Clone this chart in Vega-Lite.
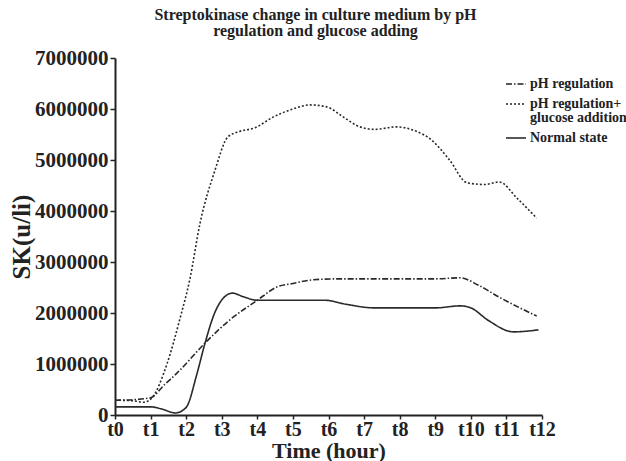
{
  "$schema": "https://vega.github.io/schema/vega-lite/v6.json",
  "autosize": {"type": "none"},
  "width": 427,
  "height": 357,
  "padding": {"left": 115, "top": 58, "right": 84, "bottom": 46},
  "background": "white",
  "title": {
    "text": ["Streptokinase change in culture medium by pH", "regulation and glucose adding"],
    "font": "Liberation Serif",
    "fontWeight": "bold",
    "fontSize": 16,
    "lineHeight": 16,
    "color": "#222",
    "anchor": "middle",
    "dx": -13,
    "offset": 8
  },
  "data": {
    "values": [
      {"t": 0, "sk": 290000, "series": "pH regulation"},
      {"t": 0.5, "sk": 300000, "series": "pH regulation"},
      {"t": 1.0, "sk": 340000, "series": "pH regulation"},
      {"t": 1.4, "sk": 600000, "series": "pH regulation"},
      {"t": 1.74, "sk": 820000, "series": "pH regulation"},
      {"t": 2.53, "sk": 1410000, "series": "pH regulation"},
      {"t": 3.2, "sk": 1850000, "series": "pH regulation"},
      {"t": 4.0, "sk": 2250000, "series": "pH regulation"},
      {"t": 4.55, "sk": 2510000, "series": "pH regulation"},
      {"t": 5.0, "sk": 2580000, "series": "pH regulation"},
      {"t": 5.56, "sk": 2650000, "series": "pH regulation"},
      {"t": 6.3, "sk": 2670000, "series": "pH regulation"},
      {"t": 7.0, "sk": 2670000, "series": "pH regulation"},
      {"t": 8.0, "sk": 2670000, "series": "pH regulation"},
      {"t": 9.0, "sk": 2670000, "series": "pH regulation"},
      {"t": 9.7, "sk": 2690000, "series": "pH regulation"},
      {"t": 10.2, "sk": 2550000, "series": "pH regulation"},
      {"t": 10.8, "sk": 2310000, "series": "pH regulation"},
      {"t": 11.85, "sk": 1940000, "series": "pH regulation"},

      {"t": 0, "sk": 290000, "series": "pH regulation+ glucose addition"},
      {"t": 0.5, "sk": 280000, "series": "pH regulation+ glucose addition"},
      {"t": 0.8, "sk": 250000, "series": "pH regulation+ glucose addition"},
      {"t": 1.03, "sk": 330000, "series": "pH regulation+ glucose addition"},
      {"t": 1.46, "sk": 1000000, "series": "pH regulation+ glucose addition"},
      {"t": 1.83, "sk": 1900000, "series": "pH regulation+ glucose addition"},
      {"t": 2.1, "sk": 2650000, "series": "pH regulation+ glucose addition"},
      {"t": 2.39, "sk": 3760000, "series": "pH regulation+ glucose addition"},
      {"t": 2.81, "sk": 4800000, "series": "pH regulation+ glucose addition"},
      {"t": 3.17, "sk": 5450000, "series": "pH regulation+ glucose addition"},
      {"t": 3.5, "sk": 5560000, "series": "pH regulation+ glucose addition"},
      {"t": 3.93, "sk": 5630000, "series": "pH regulation+ glucose addition"},
      {"t": 4.44, "sk": 5840000, "series": "pH regulation+ glucose addition"},
      {"t": 5.0, "sk": 6000000, "series": "pH regulation+ glucose addition"},
      {"t": 5.48, "sk": 6080000, "series": "pH regulation+ glucose addition"},
      {"t": 5.96, "sk": 6040000, "series": "pH regulation+ glucose addition"},
      {"t": 6.4, "sk": 5850000, "series": "pH regulation+ glucose addition"},
      {"t": 6.88, "sk": 5650000, "series": "pH regulation+ glucose addition"},
      {"t": 7.3, "sk": 5600000, "series": "pH regulation+ glucose addition"},
      {"t": 7.9, "sk": 5650000, "series": "pH regulation+ glucose addition"},
      {"t": 8.4, "sk": 5580000, "series": "pH regulation+ glucose addition"},
      {"t": 8.9, "sk": 5390000, "series": "pH regulation+ glucose addition"},
      {"t": 9.4, "sk": 5000000, "series": "pH regulation+ glucose addition"},
      {"t": 9.9, "sk": 4550000, "series": "pH regulation+ glucose addition"},
      {"t": 10.4, "sk": 4520000, "series": "pH regulation+ glucose addition"},
      {"t": 10.8, "sk": 4570000, "series": "pH regulation+ glucose addition"},
      {"t": 11.3, "sk": 4250000, "series": "pH regulation+ glucose addition"},
      {"t": 11.85, "sk": 3860000, "series": "pH regulation+ glucose addition"},

      {"t": 0, "sk": 160000, "series": "Normal state"},
      {"t": 1.0, "sk": 160000, "series": "Normal state"},
      {"t": 1.3, "sk": 120000, "series": "Normal state"},
      {"t": 1.7, "sk": 40000, "series": "Normal state"},
      {"t": 2.0, "sk": 150000, "series": "Normal state"},
      {"t": 2.3, "sk": 800000, "series": "Normal state"},
      {"t": 2.53, "sk": 1410000, "series": "Normal state"},
      {"t": 2.8, "sk": 2000000, "series": "Normal state"},
      {"t": 3.1, "sk": 2330000, "series": "Normal state"},
      {"t": 3.3, "sk": 2390000, "series": "Normal state"},
      {"t": 3.6, "sk": 2320000, "series": "Normal state"},
      {"t": 4.0, "sk": 2250000, "series": "Normal state"},
      {"t": 5.0, "sk": 2250000, "series": "Normal state"},
      {"t": 5.9, "sk": 2250000, "series": "Normal state"},
      {"t": 6.5, "sk": 2170000, "series": "Normal state"},
      {"t": 7.3, "sk": 2100000, "series": "Normal state"},
      {"t": 8.0, "sk": 2100000, "series": "Normal state"},
      {"t": 9.0, "sk": 2100000, "series": "Normal state"},
      {"t": 9.7, "sk": 2140000, "series": "Normal state"},
      {"t": 10.0, "sk": 2100000, "series": "Normal state"},
      {"t": 10.5, "sk": 1850000, "series": "Normal state"},
      {"t": 11.2, "sk": 1630000, "series": "Normal state"},
      {"t": 11.9, "sk": 1670000, "series": "Normal state"}
    ]
  },
  "mark": {"type": "line", "interpolate": "monotone", "strokeWidth": 1.6, "color": "#2a2a2a"},
  "encoding": {
    "x": {
      "field": "t",
      "type": "quantitative",
      "scale": {"domain": [0, 12], "nice": false},
      "axis": {
        "values": [0, 1, 2, 3, 4, 5, 6, 7, 8, 9, 10, 11, 12],
        "labelExpr": "'t' + datum.value",
        "title": "Time (hour)",
        "grid": false,
        "domainColor": "#222",
        "domainWidth": 2,
        "tickColor": "#222",
        "tickWidth": 1.5,
        "tickSize": 4,
        "labelFont": "Liberation Serif",
        "labelFontWeight": "bold",
        "labelFontSize": 20,
        "labelColor": "#222",
        "labelPadding": 0,
        "labelFlush": false,
        "titleFont": "Liberation Serif",
        "titleFontWeight": "bold",
        "titleFontSize": 22,
        "titleColor": "#222",
        "titlePadding": 1
      }
    },
    "y": {
      "field": "sk",
      "type": "quantitative",
      "scale": {"domain": [0, 7000000], "nice": false},
      "axis": {
        "values": [0, 1000000, 2000000, 3000000, 4000000, 5000000, 6000000, 7000000],
        "format": "d",
        "title": "SK(u/li)",
        "grid": false,
        "domainColor": "#222",
        "domainWidth": 2,
        "tickColor": "#222",
        "tickWidth": 1.5,
        "tickSize": 5,
        "labelFont": "Liberation Serif",
        "labelFontWeight": "bold",
        "labelFontSize": 21,
        "labelColor": "#222",
        "labelPadding": 2,
        "labelFlush": false,
        "titleFont": "Liberation Serif",
        "titleFontWeight": "bold",
        "titleFontSize": 25,
        "titleColor": "#222",
        "titlePadding": 0
      }
    },
    "strokeDash": {
      "field": "series",
      "type": "nominal",
      "scale": {
        "domain": ["pH regulation", "pH regulation+ glucose addition", "Normal state"],
        "range": [[6, 2, 1.5, 2], [2, 2], [1, 0]]
      },
      "legend": {
        "title": null,
        "orient": "none",
        "legendX": 390,
        "legendY": 15,
        "symbolType": "stroke",
        "symbolStrokeColor": "#222",
        "symbolStrokeWidth": 1.6,
        "symbolSize": 400,
        "labelFont": "Liberation Serif",
        "labelFontWeight": "bold",
        "labelFontSize": 14,
        "labelColor": "#222",
        "labelOffset": 3,
        "labelLimit": 200,
        "rowPadding": 2,
        "labelExpr": "datum.label == 'pH regulation+ glucose addition' ? ['pH regulation+', 'glucose addition'] : datum.label"
      }
    }
  },
  "config": {
    "view": {"stroke": null},
    "style": {"guide-label": {"lineHeight": 14}}
  }
}
